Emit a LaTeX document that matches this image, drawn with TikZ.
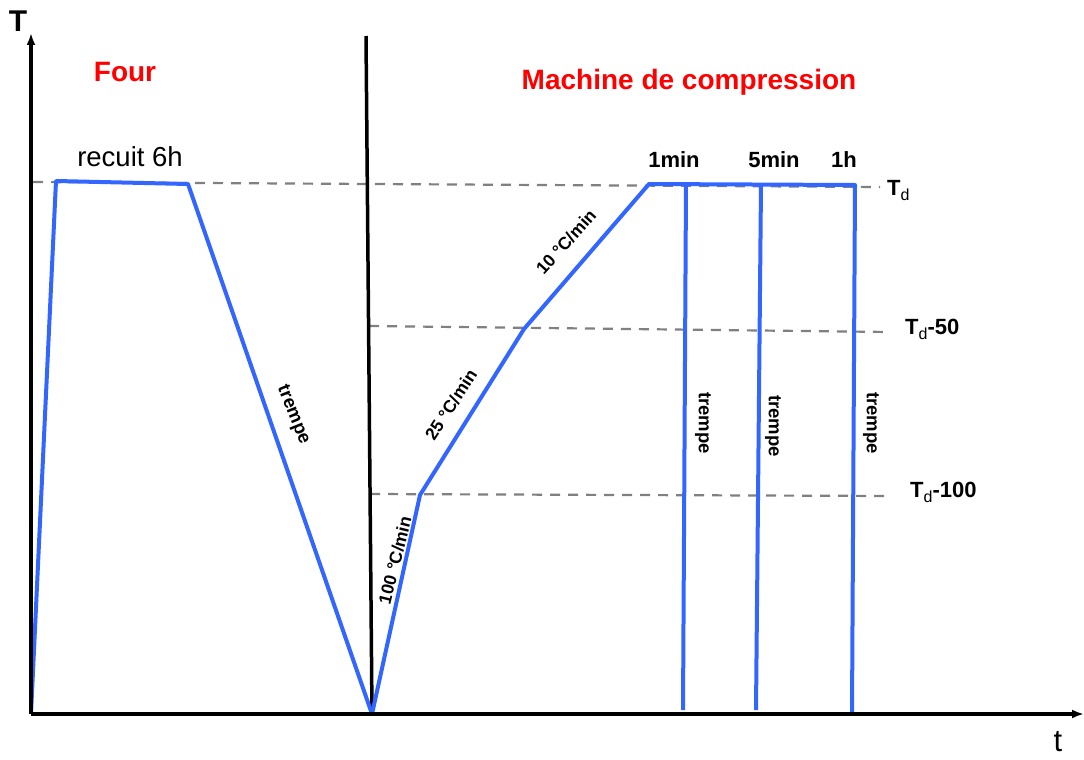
\documentclass[tikz,border=0pt]{standalone}
\usepackage{fontspec}
\setmainfont{Liberation Sans}
\usetikzlibrary{arrows.meta}
\definecolor{curveblue}{RGB}{51,102,255}
\definecolor{dashgray}{RGB}{128,128,128}
\begin{document}
\begin{tikzpicture}[x=1pt,y=-1pt,
 axis/.style={line width=3.5pt,-{Latex[length=12pt,width=9pt]}},
 divider/.style={line width=3.5pt},
 curve/.style={curveblue,line width=4pt,line join=round},
 guide/.style={dashgray,line width=2.2pt,dash pattern=on 10pt off 8pt},
 redlbl/.style={red,font=\fontsize{28}{30}\selectfont\bfseries},
 ratelbl/.style={font=\fontsize{17.5}{20}\selectfont\bfseries,inner sep=1pt},
 quenchlbl/.style={font=\fontsize{18.5}{20}\selectfont\bfseries,inner sep=1pt},
 timelbl/.style={font=\fontsize{22}{24}\selectfont\bfseries},
 levellbl/.style={font=\fontsize{22}{24}\selectfont\bfseries,anchor=west,inner sep=0pt}]
\useasboundingbox (0,0) rectangle (1084,760);
% coordinates
\coordinate (O) at (31,714);
\coordinate (Ytop) at (31,33);
\coordinate (Xend) at (1084,714);
\coordinate (D1) at (366,36);
\coordinate (D2) at (372,714);
\coordinate (F0) at (31,714);
\coordinate (F1) at (56,181);
\coordinate (F2) at (188,184);
\coordinate (F3) at (372,714);
\coordinate (C0) at (372,714);
\coordinate (C1) at (420,495);
\coordinate (C2) at (524,329);
\coordinate (C3) at (649,184);
\coordinate (C4) at (855,185);
\coordinate (Q1a) at (686,185);
\coordinate (Q1b) at (683,710);
\coordinate (Q2a) at (761,185);
\coordinate (Q2b) at (756,710);
\coordinate (Q3a) at (855,185);
\coordinate (Q3b) at (852,712);
\coordinate (G1a) at (33,182);
\coordinate (G1b) at (880,187);
\coordinate (G2a) at (369,326);
\coordinate (G2b) at (890,332);
\coordinate (G3a) at (370,494);
\coordinate (G3b) at (888,496);
% dashed guides
\draw[guide] (G1a) -- (G1b);
\draw[guide] (G2a) -- (G2b);
\draw[guide] (G3a) -- (G3b);
% divider
\draw[divider] (D1) -- (D2);
% curves
\draw[curve] (F0) -- (F1) -- (F2) -- (F3);
\draw[curve] (C0) -- (C1) -- (C2) -- (C3) -- (C4) -- (Q3b);
\draw[curve] (Q1a) -- (Q1b);
\draw[curve] (Q2a) -- (Q2b);
% axes
\draw[axis] (O) -- (Ytop);
\draw[axis] (O) -- (Xend);
% labels
\node[font=\fontsize{30}{32}\selectfont\bfseries] (lT) at (18,21) {T};
\node[font=\fontsize{31}{32}\selectfont,inner sep=0pt] (lt) at (1058,742) {t};
\node[redlbl] (four) at (125,72) {Four};
\node[redlbl] (machine) at (689,82) {Machine de compression};
\node[font=\fontsize{27.5}{30}\selectfont] (recuit) at (130,157) {recuit 6h};
\node[timelbl] (t1) at (674,160) {1min};
\node[timelbl] (t2) at (774,160) {5min};
\node[timelbl] (t3) at (844,160) {1h};
\node[levellbl] (Td) at (887,191) {T\raisebox{-5pt}{\fontsize{16}{16}\selectfont\mdseries d}};
\node[levellbl] (Td50) at (905,329) {T\raisebox{-5pt}{\fontsize{16}{16}\selectfont\mdseries d}-50};
\node[levellbl] (Td100) at (910,492) {T\raisebox{-5pt}{\fontsize{16}{16}\selectfont\mdseries d}-100};
\node[ratelbl,rotate=76] (r100) at (395,560) {100 °C/min};
\node[ratelbl,rotate=57] (r25) at (451,405) {25 °C/min};
\node[ratelbl,rotate=48] (r10) at (566,242) {10 °C/min};
\node[quenchlbl,rotate=-68] (tr0) at (293,415) {trempe};
\node[quenchlbl,rotate=-90] (tr1) at (703,423) {trempe};
\node[quenchlbl,rotate=-90] (tr2) at (773,426) {trempe};
\node[quenchlbl,rotate=-90] (tr3) at (871,423) {trempe};
\end{tikzpicture}
\end{document}
